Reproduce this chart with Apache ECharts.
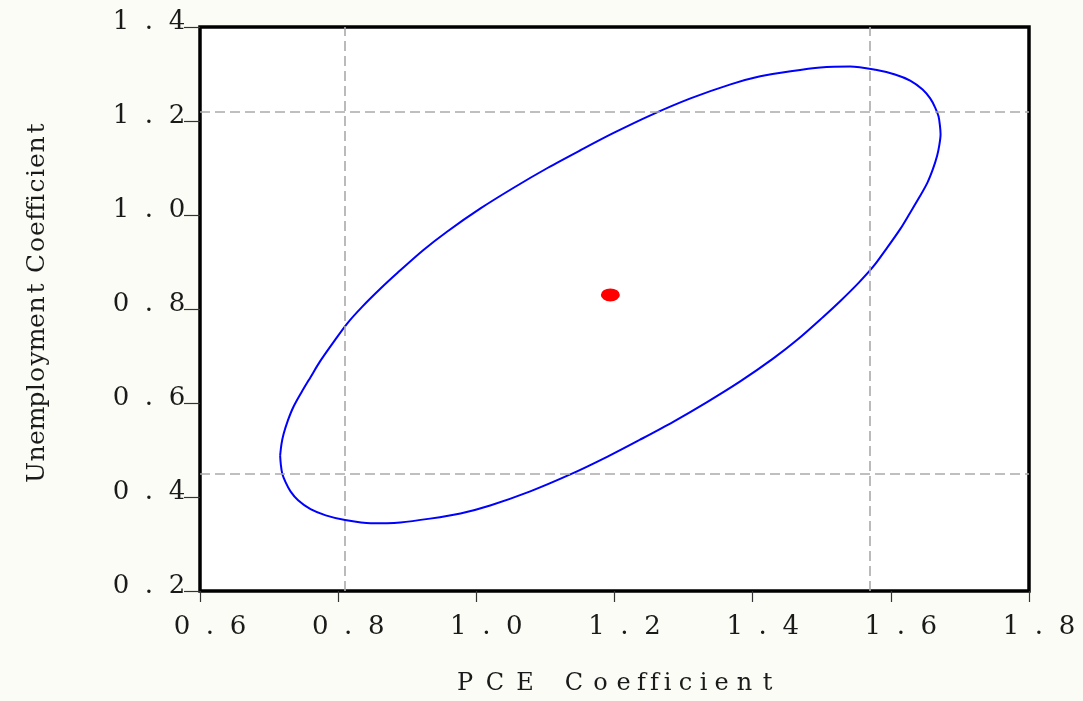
<!DOCTYPE html>
<html>
<head>
<meta charset="utf-8">
<script src="https://cdn.jsdelivr.net/npm/echarts@6/dist/echarts.min.js"></script>
<style>
html, body { margin: 0; padding: 0; background: #fcfcf7; overflow: hidden; }
#main { width: 1083px; height: 701px; }
</style>
</head>
<body>
<div id="main"></div>
<script>
// axis ticks
var xTicks = [0.6, 0.8, 1.0, 1.2, 1.4, 1.6, 1.8];
var yTicks = [0.2, 0.4, 0.6, 0.8, 1.0, 1.2, 1.4];

// point estimate and the two interval bounds (dashed lines)
var estimate = [1.194, 0.830];
var ciPCE = [0.812, 1.574];
var ciUnemp = [0.446, 1.218];

// confidence ellipse: left end, over the top, right end, back underneath
var ellipsePCE = [0.716, 0.718, 0.721, 0.727, 0.735, 0.747, 0.760, 0.774, 0.793, 0.813,
    0.835, 0.861, 0.886, 0.923, 0.958, 1.006, 1.054, 1.103, 1.151, 1.198,
    1.252, 1.310, 1.368, 1.411, 1.455, 1.498, 1.541, 1.578, 1.606, 1.628,
    1.646, 1.657, 1.664, 1.669, 1.671, 1.672,
    1.670, 1.667, 1.661, 1.653, 1.641, 1.628, 1.614, 1.595, 1.575, 1.553,
    1.527, 1.502, 1.465, 1.430, 1.382, 1.334, 1.285, 1.237, 1.190, 1.136,
    1.078, 1.020, 0.977, 0.933, 0.890, 0.847, 0.810, 0.782, 0.760, 0.742,
    0.731, 0.724, 0.719, 0.717, 0.716];
var ellipseUnemp = [0.488, 0.513, 0.534, 0.562, 0.591, 0.623, 0.655, 0.689, 0.729, 0.769,
    0.805, 0.843, 0.877, 0.925, 0.965, 1.014, 1.058, 1.100, 1.138, 1.174,
    1.212, 1.248, 1.278, 1.295, 1.306, 1.314, 1.316, 1.309, 1.299, 1.286,
    1.267, 1.248, 1.229, 1.210, 1.191, 1.172,
    1.147, 1.126, 1.098, 1.069, 1.037, 1.005, 0.971, 0.931, 0.891, 0.855,
    0.817, 0.783, 0.735, 0.695, 0.646, 0.602, 0.560, 0.522, 0.486, 0.448,
    0.412, 0.382, 0.365, 0.354, 0.346, 0.344, 0.351, 0.361, 0.374, 0.393,
    0.412, 0.431, 0.450, 0.469, 0.488];

var fontName = '"DejaVu Serif", "Liberation Serif", serif';
var textColor = '#1a1a1a';

// every character in its own cell, to get the wide spacing of the original
function spreadDigits(v) {
    var s = v.toFixed(1);
    var out = '';
    for (var i = 0; i < s.length; i++) {
        out += '{d|' + s.charAt(i) + '}';
    }
    return out;
}

function spreadTitle(s) {
    var out = '';
    for (var i = 0; i < s.length; i++) {
        var c = s.charAt(i);
        var k = 'N';
        if (c === ' ') k = 'S';
        else if (c === 'i' || c === 'l' || c === 'f') k = 'I';
        else if (c === 'm' || c.toUpperCase() === c) k = 'W';
        out += '{' + k + '|' + c + '}';
    }
    return out;
}

function cell(w, size) {
    return { width: w, align: 'center', fontFamily: fontName, fontSize: size, color: textColor };
}

var ellipse = [];
for (var i = 0; i < ellipsePCE.length; i++) {
    ellipse.push([ellipsePCE[i], ellipseUnemp[i]]);
}

var chart = echarts.init(document.getElementById('main'));

var option = {
    backgroundColor: '#fcfcf7',
    animation: false,
    grid: {
        left: 200,
        right: 54,
        top: 27,
        bottom: 106,
        show: true,
        backgroundColor: '#ffffff',
        borderColor: '#000000',
        borderWidth: 3.5
    },
    xAxis: {
        type: 'value',
        min: xTicks[0],
        max: xTicks[xTicks.length - 1],
        interval: 0.2,
        name: spreadTitle('PCE Coefficient'),
        nameLocation: 'middle',
        nameGap: 81,
        nameTextStyle: {
            fontFamily: fontName,
            fontSize: 24,
            color: textColor,
            rich: { W: cell(30, 24), N: cell(23, 24), I: cell(13, 24), S: cell(19, 24) }
        },
        axisLine: { show: false },
        axisTick: { show: true, length: 11, lineStyle: { color: '#333', width: 1.2 } },
        splitLine: { show: false },
        axisLabel: {
            margin: 23,
            padding: [0, 0, 0, 20],
            formatter: spreadDigits,
            rich: { d: cell(28, 26) }
        }
    },
    yAxis: {
        type: 'value',
        min: yTicks[0],
        max: yTicks[yTicks.length - 1],
        interval: 0.2,
        name: spreadTitle('Unemployment Coefficient'),
        nameLocation: 'middle',
        nameRotate: 90,
        nameGap: 150,
        nameTextStyle: {
            fontFamily: fontName,
            fontSize: 25,
            color: textColor,
            padding: [0, 0, 0, 14],
            rich: { W: cell(22, 25), N: cell(16, 25), I: cell(9, 25), S: cell(6, 25) }
        },
        axisLine: { show: false },
        axisTick: { show: true, length: 16, lineStyle: { color: '#333', width: 1.2 } },
        splitLine: { show: false },
        axisLabel: {
            margin: 9,
            padding: [0, 0, 10, 0],
            formatter: spreadDigits,
            rich: { d: cell(28, 26) }
        }
    },
    series: [
        {
            type: 'line',
            data: ellipse,
            smooth: 0.3,
            symbol: 'none',
            silent: true,
            lineStyle: { color: '#0000ff', width: 2 },
            markLine: {
                silent: true,
                symbol: 'none',
                label: { show: false },
                lineStyle: { color: '#aaaaaa', width: 1.6, type: [10, 5] },
                data: [
                    { xAxis: ciPCE[0] },
                    { xAxis: ciPCE[1] },
                    { yAxis: ciUnemp[0] },
                    { yAxis: ciUnemp[1] }
                ]
            }
        },
        {
            type: 'scatter',
            data: [estimate],
            symbol: 'circle',
            symbolSize: [19, 13],
            silent: true,
            itemStyle: { color: '#ff0000', opacity: 1 }
        }
    ]
};

chart.setOption(option);
</script>
</body>
</html>
